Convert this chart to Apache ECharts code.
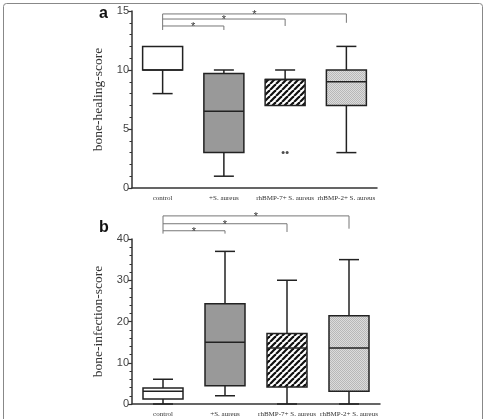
<!DOCTYPE html>
<html>
<head>
<meta charset="utf-8">
<script src="https://cdn.jsdelivr.net/npm/echarts@6/dist/echarts.min.js"></script>
<style>
  html, body { margin: 0; padding: 0; background: #fff; }
  #chart { width: 483px; height: 419px; }
</style>
</head>
<body>
<div id="chart"></div>
<script>
const categories = ['control', '+S. aureus', 'rhBMP-7+ S. aureus', 'rhBMP-2+ S. aureus']
// [min, Q1, median, Q3, max]
const healingBox = [
  [8, 10, 10, 12, 12],
  [1, 3, 6.5, 9.7, 10],
  [7, 7, 9.2, 9.2, 10],
  [3, 7, 9, 10, 12]
]
const healingOutliers = [[2, 3], [2, 3]]
const infectionBox = [
  [0, 1.2, 3.1, 3.9, 6],
  [2, 4.4, 15, 24.3, 37],
  [0, 4.1, 13.6, 17.1, 30],
  [0, 3.1, 13.6, 21.4, 35]
]
// [from, to, level, right end]
const healingBrackets = [
  [0, 1, 13.73, 13.39],
  [0, 2, 14.32, 13.73],
  [0, 3, 14.75, 14.0]
]
const infectionBrackets = [
  [0, 1, 42.0, 41.3],
  [0, 2, 43.7, 41.7],
  [0, 3, 45.6, 42.5]
]

function makePattern(kind) {
  const c = document.createElement('canvas')
  if (kind === 'hatch') {
    c.width = 6; c.height = 6
    const ctx = c.getContext('2d')
    ctx.fillStyle = '#fff'
    ctx.fillRect(0, 0, 6, 6)
    ctx.strokeStyle = '#111'
    ctx.lineWidth = 2.2
    for (let x = -6; x <= 6; x += 6) {
      ctx.beginPath()
      ctx.moveTo(x, 6)
      ctx.lineTo(x + 6, 0)
      ctx.stroke()
    }
  } else {
    c.width = 2; c.height = 2
    const ctx = c.getContext('2d')
    ctx.fillStyle = '#dcdcdc'
    ctx.fillRect(0, 0, 2, 2)
    ctx.fillStyle = '#b8b8b8'
    ctx.fillRect(0, 0, 1, 1)
    ctx.fillRect(1, 1, 1, 1)
  }
  return { image: c, repeat: 'repeat' }
}

const fills = ['#fff', '#999', makePattern('hatch'), makePattern('dots')]

function boxItem(params, api) {
  const x = api.value(0)
  const p = i => api.coord([x, api.value(i)])
  const lo = p(1), q1 = p(2), md = p(3), q3 = p(4), hi = p(5)
  const cx = lo[0]
  const hw = 20, cw = 10
  const line = { stroke: '#222', lineWidth: 1.5, fill: null }
  const kids = []
  if (hi[1] < q3[1] - 0.5) {
    kids.push({ type: 'line', shape: { x1: cx, y1: q3[1], x2: cx, y2: hi[1] }, style: line })
    kids.push({ type: 'line', shape: { x1: cx - cw, y1: hi[1], x2: cx + cw, y2: hi[1] }, style: line })
  }
  if (lo[1] > q1[1] + 0.5) {
    kids.push({ type: 'line', shape: { x1: cx, y1: q1[1], x2: cx, y2: lo[1] }, style: line })
    kids.push({ type: 'line', shape: { x1: cx - cw, y1: lo[1], x2: cx + cw, y2: lo[1] }, style: line })
  }
  kids.push({
    type: 'rect',
    shape: { x: cx - hw, y: q3[1], width: 2 * hw, height: q1[1] - q3[1] },
    style: { fill: fills[params.dataIndex], stroke: '#222', lineWidth: 1.5 }
  })
  kids.push({ type: 'line', shape: { x1: cx - hw, y1: md[1], x2: cx + hw, y2: md[1] }, style: line })
  return { type: 'group', children: kids }
}

function bracketItem(params, api) {
  const a = api.value(0), b = api.value(1)
  const lv = api.value(2), end = api.value(3)
  const p1 = api.coord([a, lv]), p2 = api.coord([b, lv]), pe = api.coord([b, end])
  const st = { stroke: '#777', lineWidth: 1, fill: null }
  return {
    type: 'group',
    children: [
      { type: 'polyline', shape: { points: [p1, p2, pe] }, style: st },
      {
        type: 'text',
        style: {
          x: (p1[0] + p2[0]) / 2, y: p1[1] + 1, text: '*',
          fill: '#333', font: '11px "Liberation Sans"', align: 'center', verticalAlign: 'middle'
        }
      }
    ]
  }
}

function leftBar(list) {
  // vertical line on control from top bracket down to the lowest end
  const top = Math.max(...list.map(d => d[2]))
  const bottom = Math.min(...list.map(d => d[3]))
  return [[0, top, bottom]]
}

function leftItem(params, api) {
  const t = api.coord([api.value(0), api.value(1)])
  const b = api.coord([api.value(0), api.value(2)])
  return { type: 'line', shape: { x1: t[0], y1: t[1], x2: b[0], y2: b[1] }, style: { stroke: '#777', lineWidth: 1 } }
}

function xAxis(gi) {
  return {
    type: 'category', gridIndex: gi, data: categories, boundaryGap: true,
    axisLine: { lineStyle: { color: '#333', width: 1.5 } },
    axisTick: { alignWithLabel: true, length: 4, lineStyle: { color: '#333', width: 1.5 } },
    axisLabel: { interval: 0, fontFamily: 'Liberation Serif', fontSize: 7, color: '#333', margin: 7 },
    splitLine: { show: false }
  }
}

function yAxis(gi, max, interval, minor, name) {
  return {
    type: 'value', gridIndex: gi, min: 0, max: max, interval: interval,
    name: name, nameLocation: 'middle', nameGap: 27,
    nameTextStyle: { fontFamily: 'Liberation Serif', fontSize: 13.5, color: '#333' },
    axisLine: { show: true, lineStyle: { color: '#333', width: 1.5 } },
    axisTick: { show: true, length: 4, lineStyle: { color: '#333', width: 1.2 } },
    minorTick: { show: true, splitNumber: minor, length: 2.5, lineStyle: { color: '#333', width: 1 } },
    axisLabel: { fontFamily: 'Liberation Sans', fontSize: 11, color: '#444', margin: 3 },
    splitLine: { show: false }
  }
}

const chart = echarts.init(document.getElementById('chart'), null, { renderer: 'canvas' })
chart.setOption({
  animation: false,
  backgroundColor: '#fff',
  grid: [
    { left: 132, top: 11, width: 245, height: 177 },
    { left: 132, top: 239, width: 248, height: 165 }
  ],
  xAxis: [xAxis(0), xAxis(1)],
  yAxis: [
    yAxis(0, 15, 5, 5, 'bone-healing-score'),
    yAxis(1, 40, 10, 5, 'bone-infection-score')
  ],
  graphic: [
    { type: 'rect', left: 1, top: 1, shape: { width: 479, height: 440, r: 3 }, style: { fill: null, stroke: '#888', lineWidth: 1 } },
    { type: 'text', left: 99, top: 6, style: { text: 'a', font: 'bold 16px "Liberation Sans"', fill: '#111' } },
    { type: 'text', left: 99, top: 220, style: { text: 'b', font: 'bold 16px "Liberation Sans"', fill: '#111' } }
  ],
  series: [
    {
      type: 'custom', xAxisIndex: 0, yAxisIndex: 0, renderItem: boxItem,
      data: healingBox.map((d, i) => [i].concat(d)), encode: { x: 0, y: [1, 2, 3, 4, 5] }
    },
    {
      type: 'scatter', xAxisIndex: 0, yAxisIndex: 0, symbolSize: 3,
      itemStyle: { color: '#222' },
      data: healingOutliers.map((d, i) => ({ value: d, symbolOffset: [i === 0 ? -2 : 2, 0] }))
    },
    {
      type: 'custom', xAxisIndex: 0, yAxisIndex: 0, renderItem: bracketItem, clip: false,
      data: healingBrackets, encode: { x: [0, 1], y: [2, 3] }
    },
    {
      type: 'custom', xAxisIndex: 0, yAxisIndex: 0, renderItem: leftItem, clip: false,
      data: leftBar(healingBrackets), encode: { x: 0, y: [1, 2] }
    },
    {
      type: 'custom', xAxisIndex: 1, yAxisIndex: 1, renderItem: boxItem,
      data: infectionBox.map((d, i) => [i].concat(d)), encode: { x: 0, y: [1, 2, 3, 4, 5] }
    },
    {
      type: 'custom', xAxisIndex: 1, yAxisIndex: 1, renderItem: bracketItem, clip: false,
      data: infectionBrackets, encode: { x: [0, 1], y: [2, 3] }
    },
    {
      type: 'custom', xAxisIndex: 1, yAxisIndex: 1, renderItem: leftItem, clip: false,
      data: leftBar(infectionBrackets), encode: { x: 0, y: [1, 2] }
    }
  ]
})
</script>
</body>
</html>
